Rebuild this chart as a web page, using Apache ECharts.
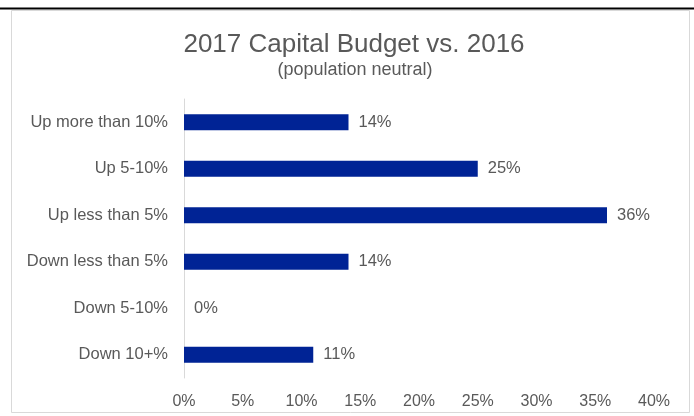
<!DOCTYPE html>
<html>
<head>
<meta charset="utf-8">
<style>
  html, body { margin: 0; padding: 0; background: #ffffff; }
  #chart { width: 694px; height: 416px; }
</style>
<script src="https://cdn.jsdelivr.net/npm/echarts@6/dist/echarts.min.js"></script>
</head>
<body>
<div id="chart"></div>
<script>
// Survey responses: change in 2017 capital budget compared with 2016
const categories = ['Up more than 10%', 'Up 5-10%', 'Up less than 5%', 'Down less than 5%', 'Down 5-10%', 'Down 10+%'];
const shares = [14, 25, 36, 14, 0, 11];
const tickValues = [0, 5, 10, 15, 20, 25, 30, 35, 40];

const FONT = '"Liberation Sans", Arial, Helvetica, sans-serif';
const TEXT = '#595959';

const chart = echarts.init(document.getElementById('chart'), null, { renderer: 'canvas' });

chart.setOption({
  animation: false,
  backgroundColor: '#ffffff',
  graphic: [
    { type: 'rect', shape: { x: 11.5, y: 10.5, width: 678, height: 402 },
      style: { fill: '#ffffff', stroke: '#d9d9d9', lineWidth: 1 }, z: -10 },
    { type: 'rect', shape: { x: 0, y: 7.5, width: 694, height: 2 },
      style: { fill: '#000000' }, z: -9 }
  ],
  title: [
    { text: '2017 Capital Budget vs. 2016', left: 349, top: 27, textAlign: 'center',
      textStyle: { fontFamily: FONT, fontSize: 26, fontWeight: 'normal', color: TEXT } },
    { text: '(population neutral)', left: 350, top: 56, textAlign: 'center',
      textStyle: { fontFamily: FONT, fontSize: 18, fontWeight: 'normal', color: TEXT } }
  ],
  grid: { left: 184, top: 99, width: 470, height: 279, containLabel: false },
  xAxis: {
    type: 'value',
    min: tickValues[0],
    max: tickValues[tickValues.length - 1],
    interval: 5,
    axisLine: { show: false },
    axisTick: { show: false },
    splitLine: { show: false },
    axisLabel: { formatter: '{value}%', margin: 16, color: TEXT, fontFamily: FONT, fontSize: 16 }
  },
  yAxis: {
    type: 'category',
    data: categories,
    inverse: true,
    axisLine: { show: true, lineStyle: { color: '#d9d9d9', width: 1 } },
    axisTick: { show: false },
    axisLabel: { margin: 16, color: TEXT, fontFamily: FONT, fontSize: 16.5 }
  },
  series: [{
    type: 'bar',
    data: shares,
    barWidth: 16,
    itemStyle: { color: '#002395' },
    label: {
      show: true, position: 'right', distance: 10,
      formatter: '{c}%', color: TEXT, fontFamily: FONT, fontSize: 16.5
    }
  }]
});
</script>
</body>
</html>
